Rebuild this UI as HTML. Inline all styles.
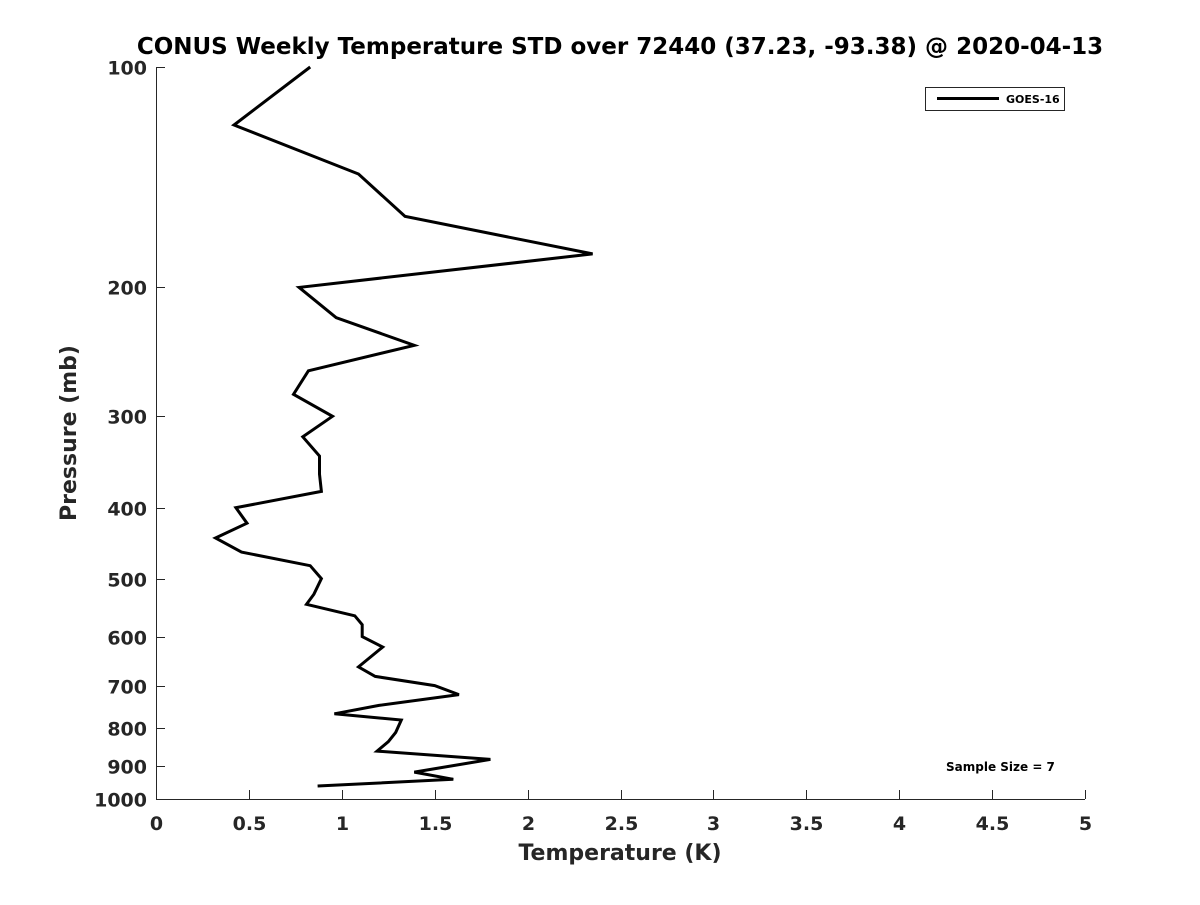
<!DOCTYPE html>
<html><head><meta charset="utf-8"><style>
body{margin:0;background:#fff}
svg text{font-family:"DejaVu Sans","Liberation Sans",sans-serif;font-weight:bold;fill:#262626}
</style></head><body>
<svg id="chart" width="1200" height="900" xmlns="http://www.w3.org/2000/svg">
<rect width="1200" height="900" fill="#fff"/>
<text x="620" y="54" text-anchor="middle" font-size="23" style="fill:#000">CONUS Weekly Temperature STD over 72440 (37.23, -93.38) @ 2020-04-13</text>
<g id="axes"></g>
<path id="series" fill="none" stroke="#000" stroke-width="3" stroke-linejoin="miter"/>
<g>
<rect x="925.5" y="87.5" width="139" height="23" fill="#fff" stroke="#262626" stroke-width="1"/>
<line x1="937" y1="98.5" x2="999" y2="98.5" stroke="#000" stroke-width="3"/>
<text x="1006" y="103" font-size="11" style="fill:#000">GOES-16</text>
</g>
<text x="946" y="771" font-size="12" style="fill:#000">Sample Size = 7</text>
<text x="620" y="860" text-anchor="middle" font-size="22">Temperature (K)</text>
<text transform="translate(76,433) rotate(-90)" text-anchor="middle" font-size="22">Pressure (mb)</text>
</svg>
<script>
const temps=[0.83,0.42,1.09,1.34,2.35,0.77,0.97,1.39,0.82,0.74,0.95,0.79,0.88,0.88,0.89,0.43,0.49,0.32,0.46,0.83,0.89,0.85,0.81,1.07,1.11,1.11,1.22,1.09,1.18,1.50,1.63,1.20,0.96,1.32,1.29,1.25,1.19,1.80,1.39,1.60,0.87];
const pressures=[100,120,140,160,180,200,220,240,260,280,300,320,340,360,380,400,420,440,460,480,500,525,542,562,578,600,620,660,680,700,720,745,765,780,811,835,860,883,919,940,960];
const xTicks=[0,0.5,1,1.5,2,2.5,3,3.5,4,4.5,5];
const yTicks=[100,200,300,400,500,600,700,800,900,1000];
const X0=156,X1=1085,Y0=67,Y1=799;
const xs=v=>X0+(v/5)*(X1-X0);
const ys=p=>Y0+(Math.log10(p)-2)*(Y1-Y0);
const ns="http://www.w3.org/2000/svg";
const ax=document.getElementById('axes');
function mk(t,a){const e=document.createElementNS(ns,t);for(const k in a)e.setAttribute(k,a[k]);ax.appendChild(e);return e;}
const xl=mk('line',{x1:X0,y1:Y1+0.5,x2:X1,y2:Y1+0.5,stroke:'#262626','stroke-width':1});


const yl=mk('line',{x1:X0+0.5,y1:Y0,x2:X0+0.5,y2:Y1,stroke:'#262626','stroke-width':1});


xTicks.forEach(v=>{
  const x=Math.round(xs(v))+0.5;
  mk('line',{x1:x,y1:Y1,x2:x,y2:Y1-9,stroke:'#262626'});
  const t=mk('text',{x:x,y:830,'text-anchor':'middle','font-size':19});
  t.textContent=v;
  
  
});
yTicks.forEach(p=>{
  const y=Math.round(ys(p))+0.5;
  mk('line',{x1:X0,y1:y,x2:X0+9,y2:y,stroke:'#262626'});
  const t=mk('text',{x:147,y:y+7,'text-anchor':'end','font-size':19});
  t.textContent=p;
  
  
});
document.getElementById('series').setAttribute('d',temps.map((v,i)=>(i?'L':'M')+xs(v).toFixed(1)+','+ys(pressures[i]).toFixed(1)).join(' '));
</script>
</body></html>
